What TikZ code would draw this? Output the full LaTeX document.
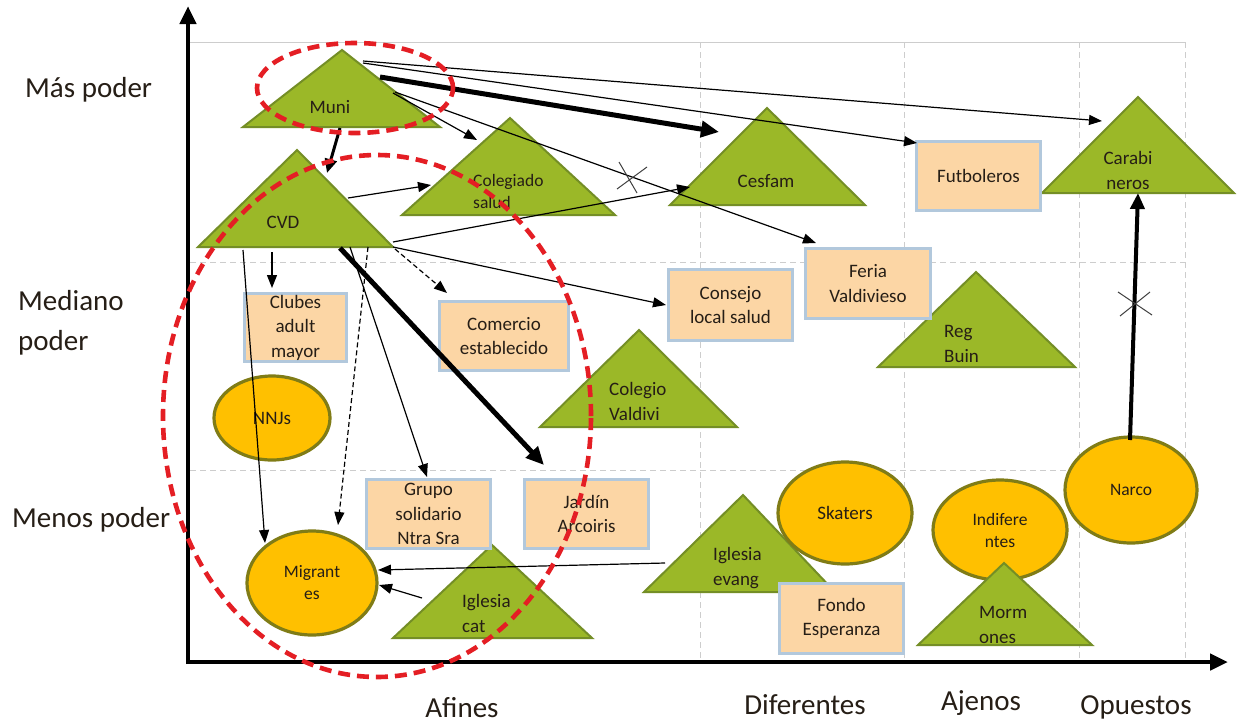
\documentclass[tikz,border=0pt]{standalone}
\usepackage{fontspec}
\setmainfont{Carlito}
\usetikzlibrary{arrows.meta,shapes.geometric}
\definecolor{trifill}{RGB}{155,184,40}
\definecolor{triborder}{RGB}{116,142,38}
\definecolor{boxfill}{RGB}{252,214,165}
\definecolor{boxborder}{RGB}{178,200,220}
\definecolor{ellfill}{RGB}{255,192,0}
\definecolor{ellborder}{RGB}{128,124,22}
\definecolor{reddash}{RGB}{228,30,36}
\definecolor{gridc}{RGB}{205,205,205}
\definecolor{txtc}{RGB}{38,30,22}
\begin{document}
\begin{tikzpicture}[x=1pt,y=-1pt,
  tri/.style={fill=trifill,draw=triborder,line width=2pt,line join=miter},
  box/.style={draw=boxborder,fill=boxfill,line width=3pt,inner sep=0pt,text=txtc,align=center,font=\fontsize{19}{24.5}\selectfont},
  ell/.style={ellipse,draw=ellborder,fill=ellfill,line width=3.2pt,inner sep=0pt,text=txtc,align=center,font=\fontsize{17.5}{22}\selectfont},
  ttxt/.style={inner sep=0pt,text=txtc,font=\fontsize{19}{25}\selectfont},
  stxt/.style={inner sep=0pt,text=txtc,font=\fontsize{17.5}{22}\selectfont},
  axlbl/.style={inner sep=0pt,text=txtc,font=\fontsize{29}{40}\selectfont},
  gridl/.style={gridc,line width=0.9pt,dash pattern=on 6pt off 4pt},
  con/.style={-{Triangle[length=13pt,width=10pt]},line width=1.2pt},
  dcon/.style={con,dash pattern=on 5pt off 3pt},
  mcon/.style={-{Triangle[length=14pt,width=12pt]},line width=3pt},
  bcon/.style={-{Triangle[length=18pt,width=16pt]},line width=5pt},
  ncon/.style={-{Triangle[length=16pt,width=14pt]},line width=4pt},
  xmark/.style={line width=1pt,black!75},
  redring/.style={draw=reddash,line width=4.6pt,dash pattern=on 12pt off 7pt}
]
\useasboundingbox (0,0) rectangle (1238,723);
\fill[white] (0,0) rectangle (1238,723);

% grid
\draw[gridc,line width=0.9pt] (190,42) -- (1185,42);
\draw[gridl] (190,262) -- (1185,262);
\draw[gridl] (190,470) -- (1185,470);
\foreach \gx in {700,904,1079,1185} {\draw[gridl] (\gx,42) -- (\gx,662);}

% axes
\draw[line width=4.5pt,-{Triangle[length=18pt,width=16pt]}] (188,664) -- (188,6);
\draw[line width=4.5pt,-{Triangle[length=18pt,width=16pt]}] (186,662) -- (1228,662);

% axis labels
\node[axlbl,anchor=west] (masp) at (25,90) {Más poder};
\node[axlbl,anchor=west,align=left] (medp) at (18,323) {Mediano\\poder};
\node[axlbl,anchor=west] (menp) at (12,520) {Menos poder};
\node[axlbl] (afin) at (462,708) {Afines};
\node[axlbl] (dife) at (805,705) {Diferentes};
\node[axlbl] (ajen) at (981,703) {Ajenos};
\node[axlbl] (opue) at (1136,707) {Opuestos};

% triangles
\draw[tri] (342,50) -- (243,127) -- (440,127) -- cycle;
\node[ttxt] (muni) at (330,107) {Muni};
\draw[tri] (297,150) -- (198,247) -- (393,247) -- cycle;
\node[ttxt] (cvd) at (283,222) {CVD};
\draw[tri] (510,118) -- (402,215) -- (615,215) -- cycle;
\node[stxt,anchor=west,align=left] (coles) at (473,191) {Colegiado\\salud};
\draw[tri] (767,108) -- (670,205) -- (865,205) -- cycle;
\node[ttxt] (cesf) at (766,181) {Cesfam};
\draw[tri] (1138,97) -- (1042,193) -- (1234,193) -- cycle;
\node[ttxt,align=center] (cara) at (1128,170) {Carabi\\neros};
\draw[tri] (976,272) -- (878,367) -- (1075,367) -- cycle;
\node[ttxt,anchor=west,align=left] (regb) at (944,344) {Reg\\Buin};
\draw[tri] (639,330) -- (540,427) -- (737,427) -- cycle;
\node[ttxt,anchor=west,align=left] (colv) at (609,401) {Colegio\\Valdivi};
\draw[tri] (743,495) -- (644,592) -- (835,592) -- cycle;
\node[ttxt,anchor=west,align=left] (igev) at (713,568) {Iglesia\\evang};
\draw[tri] (492,545) -- (393,638) -- (592,638) -- cycle;
\node[ttxt,anchor=west,align=left] (igca) at (462,613) {Iglesia\\cat};

% ellipses
\node[ell,minimum width=116pt,minimum height=84pt,font=\fontsize{19}{24}\selectfont] (nnjs) at (272,418) {NNJs};
\node[ell,minimum width=130pt,minimum height=104pt] (migr) at (312,583) {Migrant\\es};
\node[ell,minimum width=134pt,minimum height=102pt,font=\fontsize{19}{24}\selectfont] (skat) at (845,513) {Skaters};
\node[ell,minimum width=134pt,minimum height=100pt] (indi) at (1000,530) {Indifere\\ntes};
\node[ell,minimum width=132pt,minimum height=106pt] (narc) at (1131,490) {Narco};

% Mormones over Indiferentes
\draw[tri] (1004,563) -- (918,645) -- (1092,645) -- cycle;
\node[ttxt,anchor=west,align=left] (morm) at (979,625) {Morm\\ones};

% boxes
\node[box,minimum width=124pt,minimum height=69pt] (futb) at (978.5,176) {Futboleros};
\node[box,minimum width=125pt,minimum height=70pt] (feri) at (868,283.5) {Feria\\Valdivieso};
\node[box,minimum width=124pt,minimum height=71pt] (cons) at (730.5,305) {Consejo\\local salud};
\node[box,minimum width=102pt,minimum height=68pt] (club) at (295.5,327.5) {Clubes\\adult\\mayor};
\node[box,minimum width=129pt,minimum height=69pt] (come) at (504,336) {Comercio\\establecido};
\node[box,minimum width=124pt,minimum height=69pt] (grup) at (428.5,514) {Grupo\\solidario\\Ntra Sra};
\node[box,minimum width=124pt,minimum height=69pt] (jard) at (586.5,514) {Jardín\\Arcoiris};
\node[box,minimum width=124pt,minimum height=70pt] (fond) at (841.5,618.5) {Fondo\\Esperanza};

% connector end points
\coordinate (mA) at (340,128);  \coordinate (cA) at (327,173);
\coordinate (mB) at (393,93);   \coordinate (colB) at (477,140);
\coordinate (mC) at (380,77);   \coordinate (cesC) at (719,132);
\coordinate (mD) at (363,63);   \coordinate (futD) at (917,143);
\coordinate (mE) at (363,61);   \coordinate (carE) at (1102,121);
\coordinate (mF) at (395,92);   \coordinate (ferF) at (816,243);
\coordinate (vG) at (348,198);  \coordinate (colG) at (431,185);
\coordinate (vH) at (393,242);  \coordinate (cesH) at (690,187);
\coordinate (vI) at (393,247);  \coordinate (conI) at (666,305);
\coordinate (vJ) at (272,252);  \coordinate (cluJ) at (272,288);
\coordinate (vK) at (243,250);  \coordinate (migK) at (265,543);
\coordinate (vL) at (368,247);  \coordinate (migL) at (338,525);
\coordinate (vM) at (350,247);  \coordinate (gruM) at (427,477);
\coordinate (vN) at (340,248);  \coordinate (jarN) at (544,465);
\coordinate (vO) at (395,249);  \coordinate (comO) at (447,293);
\coordinate (eP) at (665,563);  \coordinate (migP) at (378,570);
\coordinate (iQ) at (422,598);  \coordinate (migQ) at (379,585);
\coordinate (nR) at (1130,440); \coordinate (carR) at (1138,193);

% connectors
\draw[mcon] (mA) -- (cA);
\draw[con] (mB) -- (colB);
\draw[bcon] (mC) -- (cesC);
\draw[con] (mD) -- (futD);
\draw[con] (mE) -- (carE);
\draw[con] (mF) -- (ferF);
\draw[con] (vG) -- (colG);
\draw[con] (vH) -- (cesH);
\draw[con] (vI) -- (conI);
\draw[con] (vJ) -- (cluJ);
\draw[con] (vK) -- (migK);
\draw[dcon] (vL) -- (migL);
\draw[con] (vM) -- (gruM);
\draw[bcon] (vN) -- (jarN);
\draw[dcon] (vO) -- (comO);
\draw[con] (eP) -- (migP);
\draw[con] (iQ) -- (migQ);
\draw[ncon] (nR) -- (carR);

% X marks
\draw[xmark] (619,162) -- (637,193) (617,189) -- (647,167);
\draw[xmark] (1118,292) -- (1152,315) (1120,316) -- (1150,292);

% red dashed rings
\draw[redring] (355,88) ellipse [x radius=98pt, y radius=45pt];
\draw[redring] (377,416) ellipse [x radius=214pt, y radius=261pt];
\end{tikzpicture}
\end{document}
